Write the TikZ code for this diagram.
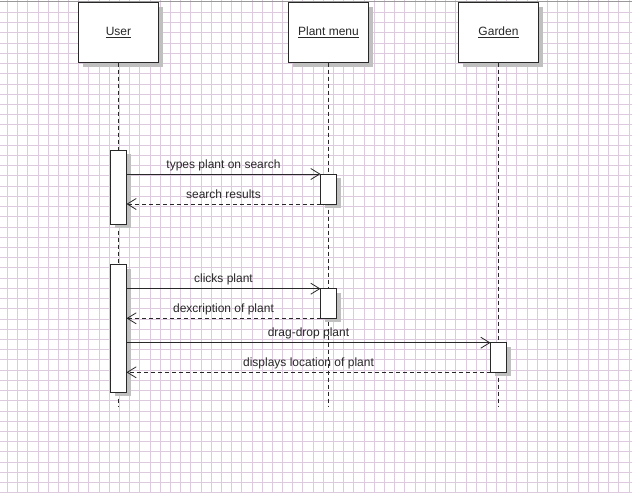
\documentclass[tikz,border=0pt]{standalone}
\usepackage{fontspec}
\setmainfont{Liberation Sans}
\usetikzlibrary{arrows.meta,shadows}

\definecolor{gridpink}{RGB}{222,202,222}
\definecolor{inkgray}{RGB}{40,40,40}
\definecolor{shadowgray}{RGB}{192,192,192}

\tikzset{
  gridline/.style={draw=gridpink, line width=0.7pt},
  objbox/.style={draw=inkgray, fill=white, line width=0.8pt, outer sep=0pt,
    minimum width=80pt, minimum height=60pt, text=inkgray,
    font=\fontsize{12}{14}\selectfont,
    drop shadow={shadow xshift=4pt, shadow yshift=-4pt, fill=shadowgray, opacity=1}},
  actbox/.style={draw=inkgray, fill=white, line width=0.8pt, outer sep=0pt,
    inner sep=0pt, minimum width=16pt,
    drop shadow={shadow xshift=4pt, shadow yshift=-4pt, fill=shadowgray, opacity=1}},
  lifeline/.style={draw=inkgray, line width=0.8pt, dash pattern=on 4pt off 3pt},
  callmsg/.style={draw=inkgray, line width=0.8pt, -{Straight Barb[length=9pt,width=11pt]}},
  retmsg/.style={callmsg, dash pattern=on 4pt off 3pt},
  msglabel/.style={midway, anchor=base, yshift=6pt, inner sep=0pt, text=inkgray,
    font=\fontsize{12}{14}\selectfont}
}

\begin{document}
\begin{tikzpicture}[x=1pt, y=-1pt]
\useasboundingbox (0,0) rectangle (632,493);
\fill[white] (0,0) rectangle (632,493);
% grid paper
\foreach \i in {0,...,61} \draw[gridline] (7.3+10.19*\i,0) -- (7.3+10.19*\i,493);
\foreach \j in {1,...,48} \draw[gridline] (0,2.1+10.22*\j) -- (632,2.1+10.22*\j);
\draw[draw=gray!80, line width=1pt] (0,1) -- (632,1);

% objects
\node (user) at (118.5,32.5) [objbox] {\underline{User}};
\node (menu) at (328.5,32.5) [objbox] {\underline{Plant menu}};
\node (garden) at (498.5,32.5) [objbox] {\underline{Garden}};

\coordinate (userend) at (118.5,407);
\coordinate (menuend) at (328.5,407);
\coordinate (gardenend) at (498.5,407);
\draw[lifeline] (user) -- (userend);
\draw[lifeline] (menu) -- (menuend);
\draw[lifeline] (garden) -- (gardenend);

% activations
\node (ua1) at (118.5,187.2) [actbox, minimum height=73.7pt] {};
\node (pa1) at (328.5,189) [actbox, minimum height=30pt] {};
\node (ua2) at (118.5,328.4) [actbox, minimum height=127.8pt] {};
\node (pa2) at (328.5,303.5) [actbox, minimum height=29.6pt] {};
\node (ga) at (498.5,357.5) [actbox, minimum height=29.6pt] {};

% messages
\draw[callmsg] (ua1.east |- pa1.north) -- (pa1.north west) node[msglabel] {types plant on search};
\draw[retmsg] (pa1.south west) -- (ua1.east |- pa1.south) node[msglabel] {search results};
\draw[callmsg] (ua2.east |- pa2.north) -- (pa2.north west) node[msglabel] {clicks plant};
\draw[retmsg] (pa2.south west) -- (ua2.east |- pa2.south) node[msglabel] {dexcription of plant};
\draw[callmsg] (ua2.east |- ga.north) -- (ga.north west) node[msglabel] {drag-drop plant};
\draw[retmsg] (ga.south west) -- (ua2.east |- ga.south) node[msglabel] {displays location of plant};
\end{tikzpicture}
\end{document}
